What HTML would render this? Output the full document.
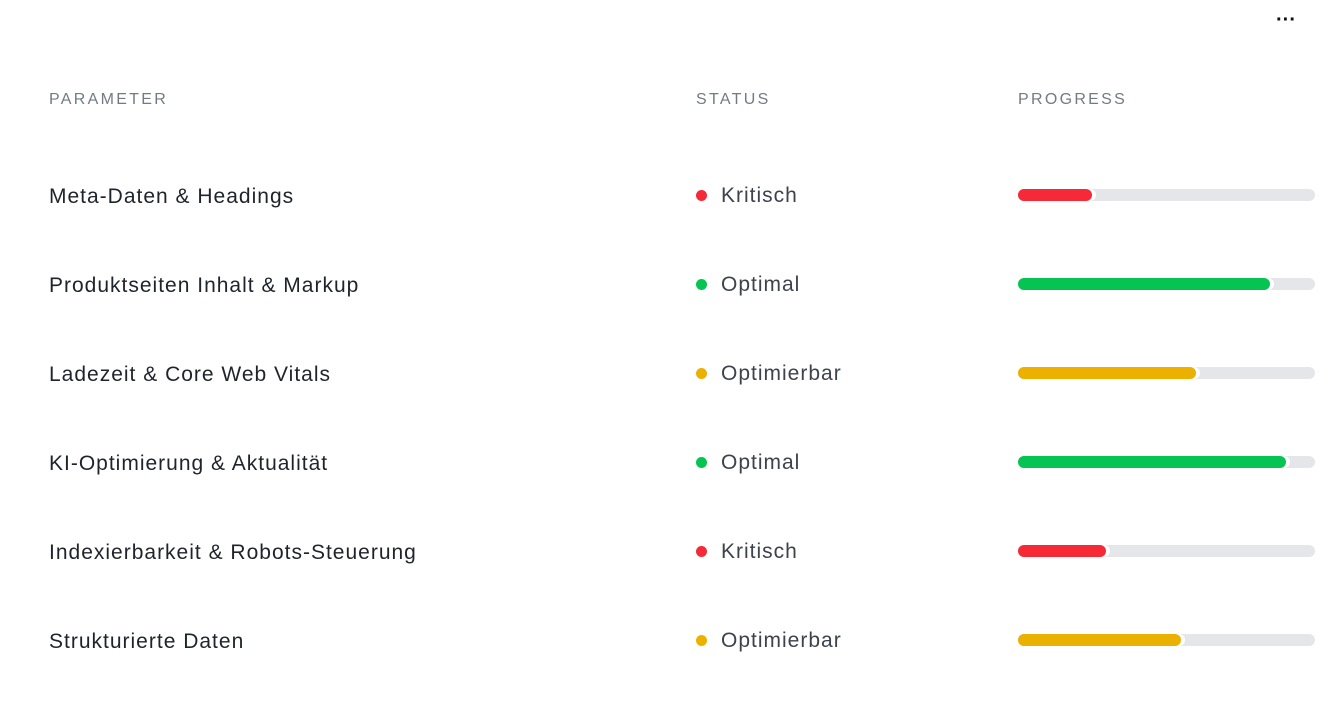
<!DOCTYPE html>
<html><head><meta charset="utf-8"><style>
body{margin:0;width:1344px;height:725px;background:#fff;font-family:"Liberation Sans",sans-serif;position:relative;overflow:hidden}
.a{position:absolute;white-space:nowrap}
.h{font-size:16px;color:#737a86;letter-spacing:2.3px;top:91px}
.p{font-size:21px;color:#1f232b;left:49px;letter-spacing:1px}
.s{font-size:21px;color:#3d424c;left:721px;letter-spacing:1px}
.d{position:absolute;width:11px;height:11px;border-radius:50%;left:696px}
.t{position:absolute;left:1018px;width:297px;height:12px;border-radius:6px;background:#e5e6ea}
.f{position:absolute;left:1018px;height:12px;border-radius:6px}
</style></head><body>
<div class="a" style="left:1276px;top:9px;font-size:20px;font-weight:bold;color:#111">···</div>
<div class="a h" style="left:49px">PARAMETER</div>
<div class="a h" style="left:696px">STATUS</div>
<div class="a h" style="left:1018px">PROGRESS</div>

<div class="a p" style="top:185px">Meta-Daten &amp; Headings</div>
<div class="d" style="top:190px;background:#f52a36"></div><div class="a s" style="top:184px">Kritisch</div>
<div class="t" style="top:189px"></div><div class="f" style="top:189px;width:74px;background:#f52a36;box-shadow:4px 0 0 #fff"></div>

<div class="a p" style="top:274px">Produktseiten Inhalt &amp; Markup</div>
<div class="d" style="top:279px;background:#05c451"></div><div class="a s" style="top:273px">Optimal</div>
<div class="t" style="top:278px"></div><div class="f" style="top:278px;width:252px;background:#05c451;box-shadow:4px 0 0 #fff"></div>

<div class="a p" style="top:363px">Ladezeit &amp; Core Web Vitals</div>
<div class="d" style="top:368px;background:#ecb000"></div><div class="a s" style="top:362px">Optimierbar</div>
<div class="t" style="top:367px"></div><div class="f" style="top:367px;width:178px;background:#ecb000;box-shadow:4px 0 0 #fff"></div>

<div class="a p" style="top:452px">KI-Optimierung &amp; Aktualität</div>
<div class="d" style="top:457px;background:#05c451"></div><div class="a s" style="top:451px">Optimal</div>
<div class="t" style="top:456px"></div><div class="f" style="top:456px;width:268px;background:#05c451;box-shadow:4px 0 0 #fff"></div>

<div class="a p" style="top:541px">Indexierbarkeit &amp; Robots-Steuerung</div>
<div class="d" style="top:546px;background:#f52a36"></div><div class="a s" style="top:540px">Kritisch</div>
<div class="t" style="top:545px"></div><div class="f" style="top:545px;width:88px;background:#f52a36;box-shadow:4px 0 0 #fff"></div>

<div class="a p" style="top:630px">Strukturierte Daten</div>
<div class="d" style="top:635px;background:#ecb000"></div><div class="a s" style="top:629px">Optimierbar</div>
<div class="t" style="top:634px"></div><div class="f" style="top:634px;width:163px;background:#ecb000;box-shadow:4px 0 0 #fff"></div>
</body></html>
